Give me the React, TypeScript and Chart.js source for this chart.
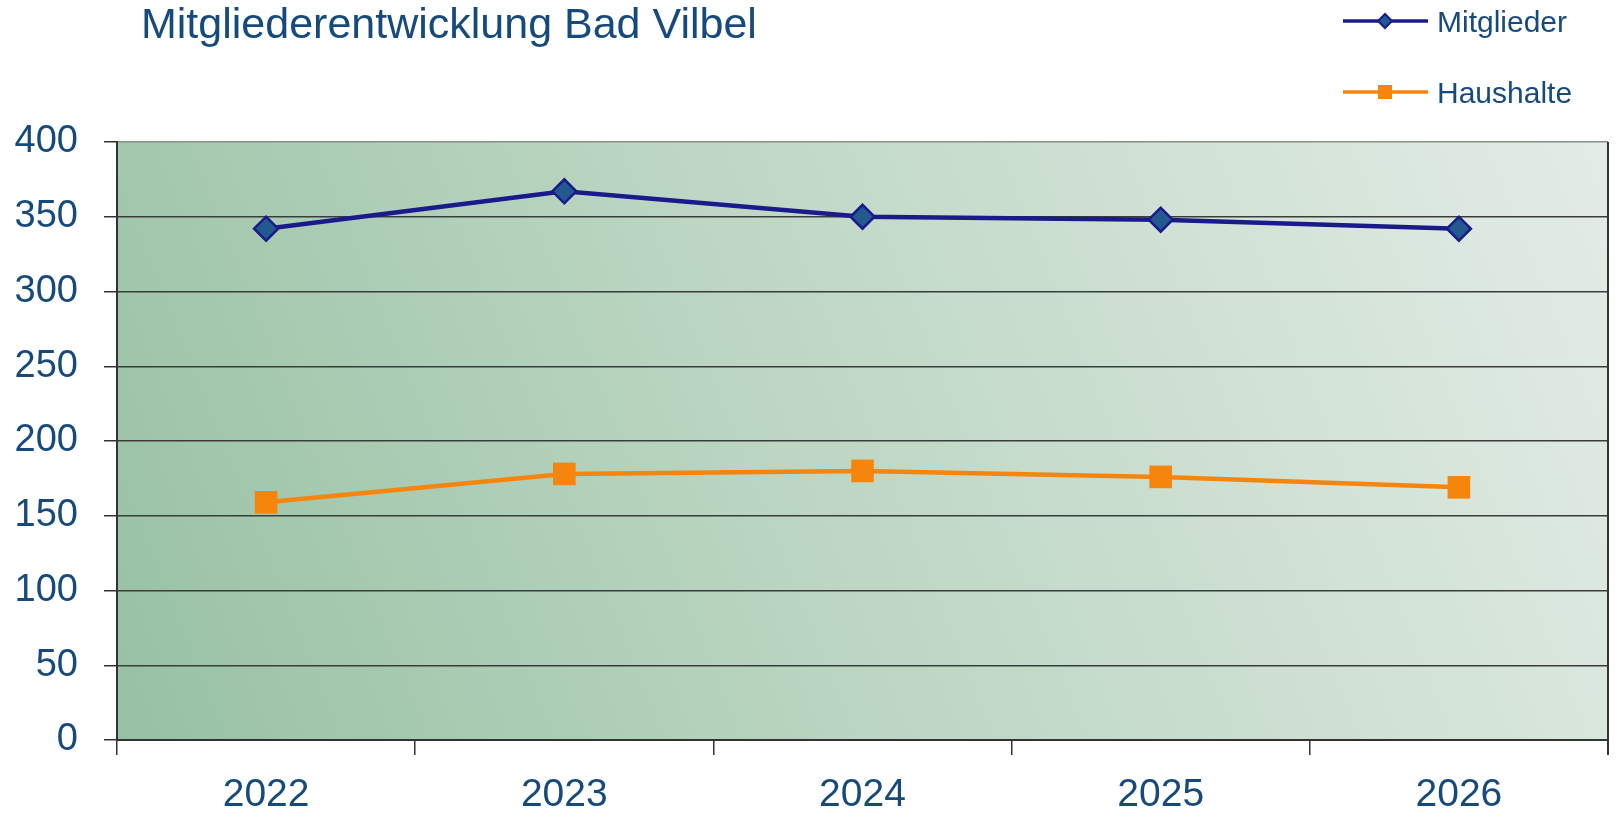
import React, { useEffect, useRef } from "react";
import { Chart, registerables } from "chart.js";

Chart.register(...registerables);

const years = ["2022", "2023", "2024", "2025", "2026"];
const mitglieder = [342, 367, 350, 348, 342];
const haushalte = [159, 178, 180, 176, 169];
const seriesNames = ["Mitglieder", "Haushalte"];
const chartTitle = "Mitgliederentwicklung Bad Vilbel";

const TEXT_COLOR = "#174a7c";
const NAVY = "#1a1a8a";
const DIAMOND_FILL = "#22598e";
const ORANGE = "#f5850c";
const FONT = "'Liberation Sans', Arial, sans-serif";

const decorPlugin = {
  id: "decor",
  beforeDraw(chart: any) {
    const { ctx, chartArea: a } = chart;
    ctx.save();
    ctx.fillStyle = "#ffffff";
    ctx.fillRect(0, 0, chart.width, chart.height);
    const g = ctx.createLinearGradient(a.left, a.bottom, a.right, a.top);
    g.addColorStop(0, "#97c1a3");
    g.addColorStop(0.45, "#bcd6c3");
    g.addColorStop(1, "#e3ece6");
    ctx.fillStyle = g;
    ctx.fillRect(a.left, a.top, a.right - a.left, a.bottom - a.top);
    ctx.restore();
  },
  afterDraw(chart: any) {
    const { ctx, chartArea: a } = chart;
    ctx.save();
    ctx.strokeStyle = "#333333";
    ctx.lineWidth = 2;
    ctx.beginPath();
    ctx.moveTo(a.right, a.top);
    ctx.lineTo(a.right, a.bottom + 15);
    ctx.stroke();

    ctx.fillStyle = TEXT_COLOR;
    ctx.font = `43px ${FONT}`;
    ctx.textBaseline = "middle";
    ctx.textAlign = "left";
    ctx.fillText(chartTitle, 141, 26);

    const lx0 = 1343, lx1 = 1428, cx = 1385;
    const rows = [
      { y: 21, color: NAVY, name: seriesNames[0], kind: "diamond" },
      { y: 92, color: ORANGE, name: seriesNames[1], kind: "square" },
    ];
    rows.forEach((r) => {
      ctx.strokeStyle = r.color;
      ctx.lineWidth = 3.5;
      ctx.beginPath();
      ctx.moveTo(lx0, r.y);
      ctx.lineTo(lx1, r.y);
      ctx.stroke();
      if (r.kind === "diamond") {
        ctx.beginPath();
        ctx.moveTo(cx, r.y - 7);
        ctx.lineTo(cx + 7, r.y);
        ctx.lineTo(cx, r.y + 7);
        ctx.lineTo(cx - 7, r.y);
        ctx.closePath();
        ctx.fillStyle = DIAMOND_FILL;
        ctx.fill();
        ctx.lineWidth = 2;
        ctx.strokeStyle = NAVY;
        ctx.stroke();
      } else {
        ctx.fillStyle = ORANGE;
        ctx.fillRect(cx - 7, r.y - 7, 14, 14);
      }
      ctx.fillStyle = TEXT_COLOR;
      ctx.font = `30px ${FONT}`;
      ctx.textBaseline = "middle";
      ctx.textAlign = "left";
      ctx.fillText(r.name, 1437, r.y + 3);
    });
    ctx.restore();
  },
};

export default function App() {
  const ref = useRef<HTMLCanvasElement | null>(null);
  useEffect(() => {
    if (!ref.current) return;
    const chart = new Chart(ref.current, {
      type: "line",
      data: {
        labels: years,
        datasets: [
          {
            label: seriesNames[0],
            data: mitglieder,
            borderColor: NAVY,
            borderWidth: 4.5,
            backgroundColor: DIAMOND_FILL,
            pointStyle: "rectRot",
            pointRadius: 12,
            pointBorderWidth: 2.5,
            pointBorderColor: NAVY,
            pointBackgroundColor: DIAMOND_FILL,
            tension: 0,
          },
          {
            label: seriesNames[1],
            data: haushalte,
            borderColor: ORANGE,
            borderWidth: 4.5,
            backgroundColor: ORANGE,
            pointStyle: "rect",
            pointRadius: 16,
            pointBorderWidth: 0,
            pointBackgroundColor: ORANGE,
            tension: 0,
          },
        ],
      },
      options: {
        responsive: false,
        animation: false,
        layout: { padding: { top: 142, right: 3, bottom: 0, left: 0 } },
        plugins: {
          legend: { display: false },
          title: { display: false },
          tooltip: { enabled: false },
        },
        scales: {
          x: {
            offset: true,
            grid: {
              offset: true,
              drawOnChartArea: false,
              drawTicks: true,
              tickLength: 15,
              tickColor: "#333333",
              lineWidth: 1.5,
            },
            border: { display: true, color: "#333333", width: 2 },
            ticks: {
              color: TEXT_COLOR,
              font: { family: FONT, size: 39 },
              padding: 17,
            },
            afterFit: (s: any) => {
              s.height = 75;
            },
          },
          y: {
            min: 0,
            max: 400,
            ticks: {
              stepSize: 50,
              color: TEXT_COLOR,
              font: { family: FONT, size: 38 },
              padding: 26,
            },
            grid: {
              color: (c: any) => (c.tick && c.tick.value === 400 ? "#8a8f8a" : "#3a3d3a"),
              lineWidth: 1.5,
              tickLength: 13,
              tickColor: "#333333",
            },
            border: { display: true, color: "#333333", width: 2 },
            afterFit: (s: any) => {
              s.width = 117;
            },
          },
        },
      },
      plugins: [decorPlugin],
    });
    return () => chart.destroy();
  }, []);
  return (
    <div style={{ position: "fixed", left: 0, top: 0, width: 1624, height: 815, background: "#fff" }}>
      <canvas ref={ref} width={1624} height={815} style={{ display: "block" }} />
    </div>
  );
}
